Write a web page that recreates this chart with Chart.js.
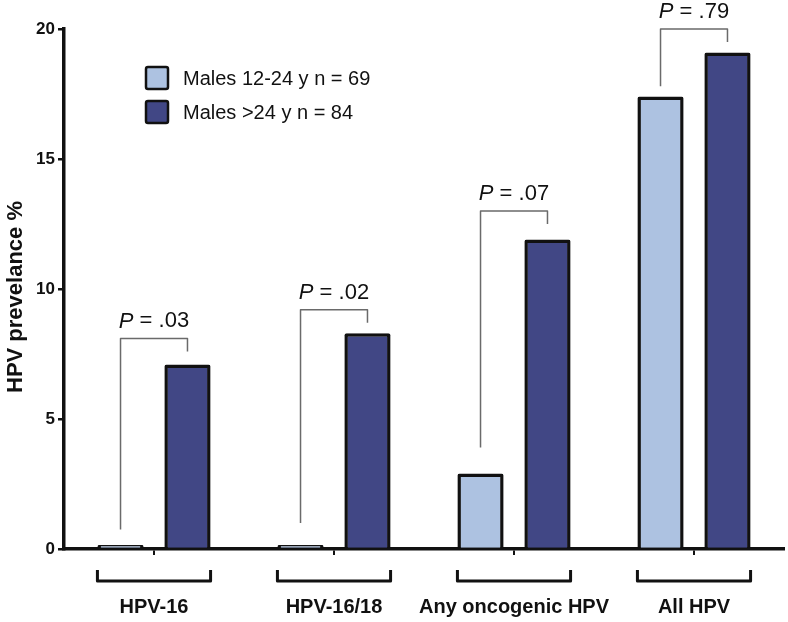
<html>
  <head>
    <script src="https://cdn.jsdelivr.net/npm/chart.js@4.4.0/dist/chart.umd.min.js"></script>
    <style>
      body { margin: 0; background: #fff; }
    </style>
  </head>
  <body>
    <canvas id="output" width="788" height="622"></canvas>

    <script>
      // Chart data
      var categories = ['HPV-16', 'HPV-16/18', 'Any oncogenic HPV', 'All HPV'];
      var seriesNames = ['Males 12-24 y n = 69', 'Males >24 y n = 84'];
      var youngValues = [0.15, 0.15, 2.9, 17.4];
      var olderValues = [7.1, 8.3, 11.9, 19.1];
      var yTicks = [0, 5, 10, 15, 20];
      var yTitle = 'HPV prevelance %';

      // P-value annotations (bracket top and left leg end in % units)
      var pValues = ['.03', '.02', '.07', '.79'];
      var pBracketTop = [8.1, 9.2, 13.0, 20.0];
      var pLeftLegEnd = [0.75, 1.0, 3.9, 17.8];

      var fontFamily = '"Liberation Sans", Arial, Helvetica, sans-serif';
      var ink = '#111111';
      Chart.defaults.font.family = fontFamily;
      Chart.defaults.color = ink;

      // Draws the y title, category brackets, P-value brackets and the legend
      var annotations = {
        id: 'annotations',
        afterDraw: function(chart) {
          var ctx = chart.ctx;
          var y = chart.scales.y;
          var m0 = chart.getDatasetMeta(0).data;
          var m1 = chart.getDatasetMeta(1).data;
          var base = chart.chartArea.bottom;
          ctx.save();

          // y axis title, sitting a bit below the middle of the axis
          ctx.save();
          ctx.translate(22, 297);
          ctx.rotate(-Math.PI / 2);
          ctx.font = 'bold 22px ' + fontFamily;
          ctx.fillStyle = ink;
          ctx.textAlign = 'center';
          ctx.textBaseline = 'alphabetic';
          ctx.fillText(yTitle, 0, 0);
          ctx.restore();

          // brackets under each category
          ctx.strokeStyle = ink;
          ctx.lineWidth = 3;
          ctx.lineJoin = 'round';
          for (var i = 0; i < categories.length; i++) {
            var l = m0[i].x - m0[i].width / 2;
            var r = m1[i].x + m1[i].width / 2;
            ctx.beginPath();
            ctx.moveTo(l, base + 21);
            ctx.lineTo(l, base + 32);
            ctx.lineTo(r, base + 32);
            ctx.lineTo(r, base + 21);
            ctx.stroke();
          }

          // P-value brackets
          ctx.strokeStyle = '#6a6a6a';
          ctx.lineWidth = 1.5;
          for (var i = 0; i < categories.length; i++) {
            var xl = m0[i].x, xr = m1[i].x;
            var top = y.getPixelForValue(pBracketTop[i]);
            ctx.beginPath();
            ctx.moveTo(xl, y.getPixelForValue(pLeftLegEnd[i]));
            ctx.lineTo(xl, top);
            ctx.lineTo(xr, top);
            ctx.lineTo(xr, top + 13);
            ctx.stroke();

            var rest = ' = ' + pValues[i];
            ctx.font = 'italic 22px ' + fontFamily;
            var wP = ctx.measureText('P').width;
            ctx.font = '22px ' + fontFamily;
            var wR = ctx.measureText(rest).width;
            var x0 = (xl + xr) / 2 - (wP + wR) / 2;
            ctx.fillStyle = ink;
            ctx.textBaseline = 'middle';
            ctx.textAlign = 'left';
            ctx.font = 'italic 22px ' + fontFamily;
            ctx.fillText('P', x0, top - 17);
            ctx.font = '22px ' + fontFamily;
            ctx.fillText(rest, x0 + wP, top - 17);
          }

          // legend
          var colors = chart.data.datasets.map(function(d) { return d.backgroundColor; });
          for (var k = 0; k < seriesNames.length; k++) {
            var by = 67 + k * 34;
            ctx.fillStyle = colors[k];
            ctx.strokeStyle = ink;
            ctx.lineWidth = 2.5;
            ctx.beginPath();
            ctx.roundRect(146, by, 22, 22, 2);
            ctx.fill();
            ctx.stroke();
            ctx.fillStyle = ink;
            ctx.font = '20px ' + fontFamily;
            ctx.textBaseline = 'middle';
            ctx.fillText(seriesNames[k], 183, by + 12);
          }
          ctx.restore();
        }
      };

      var ctx = document.getElementById('output').getContext('2d');
      var myChart = new Chart(ctx, {
        type: 'bar',
        data: {
          labels: categories,
          datasets: [{
            label: seriesNames[0],
            data: youngValues,
            backgroundColor: '#adc2e1',
            borderColor: ink,
            borderWidth: 3.5,
            borderRadius: 2,
            borderSkipped: 'bottom'
          }, {
            label: seriesNames[1],
            data: olderValues,
            backgroundColor: '#414785',
            borderColor: ink,
            borderWidth: 3.5,
            borderRadius: 2,
            borderSkipped: 'bottom'
          }]
        },
        options: {
          responsive: false,
          animation: false,
          devicePixelRatio: 1,
          categoryPercentage: 0.744,
          barPercentage: 0.69,
          layout: { padding: { top: 29, right: 4, left: 0, bottom: 0 } },
          plugins: {
            legend: { display: false },
            tooltip: { enabled: false }
          },
          scales: {
            x: {
              grid: { drawOnChartArea: false, offset: false, tickLength: 6, color: ink, lineWidth: 2 },
              border: { color: ink, width: 3.5 },
              ticks: { font: { size: 20, weight: 'bold' }, color: ink, padding: 40, maxRotation: 0, minRotation: 0, autoSkip: false },
              afterFit: function(scale) { scale.height = 73; }
            },
            y: {
              min: 0,
              max: 20,
              afterBuildTicks: function(scale) {
                scale.ticks = yTicks.map(function(v) { return { value: v }; });
              },
              grid: { drawOnChartArea: false, tickLength: 6, color: ink, lineWidth: 2.5 },
              border: { color: ink, width: 3.5 },
              ticks: { font: { size: 17, weight: 'bold' }, color: ink, padding: 3 },
              afterFit: function(scale) { scale.width = 64; }
            }
          }
        },
        plugins: [annotations]
      });
    </script>
  </body>
</html>
